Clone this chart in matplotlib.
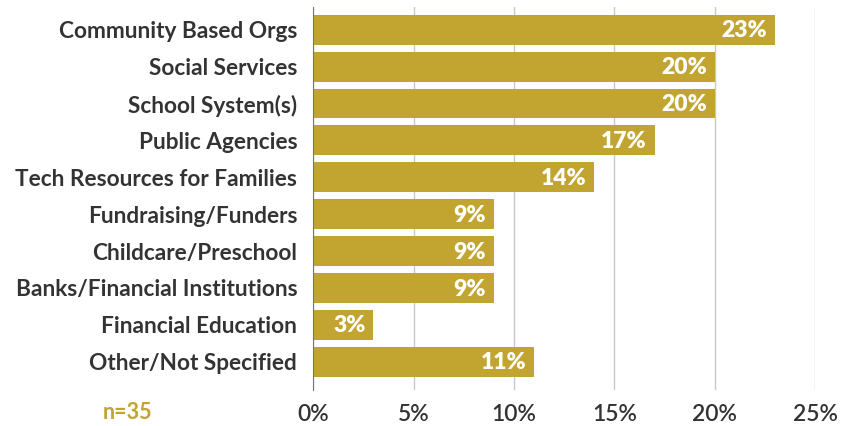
import matplotlib
matplotlib.use("Agg")
import matplotlib.pyplot as plt
from matplotlib.ticker import FuncFormatter

categories = ["Community Based Orgs", "Social Services", "School System(s)", "Public Agencies",
              "Tech Resources for Families", "Fundraising/Funders", "Childcare/Preschool",
              "Banks/Financial Institutions", "Financial Education", "Other/Not Specified"]
values = [23, 20, 20, 17, 14, 9, 9, 9, 3, 11]
ticks = [0, 5, 10, 15, 20, 25]
sample_note = "n=35"

gold = "#C2A431"
dark = "#333333"
plt.rcParams['font.family'] = ['Lato', 'DejaVu Sans']

fig = plt.figure(figsize=(8.51, 4.26), dpi=100)
ax = fig.add_axes([0.368, 0.085, 0.59, 0.899])

pos = list(range(len(categories)))
ax.barh(pos, values, height=0.81, color=gold, zorder=2)
for p, v in zip(pos, values):
    ax.text(v - 0.4, p + 0.03, f"{v}%", ha="right", va="center", color="white",
            fontsize=16.5, fontweight="heavy", zorder=3)

ax.set_xlim(0, 25)
ax.set_ylim(9.76, -0.62)
ax.set_xticks(ticks)
ax.xaxis.set_major_formatter(FuncFormatter(lambda x, _: f"{x:.0f}%"))
ax.set_yticks(pos)
ax.set_yticklabels(categories, fontsize=16.3, fontweight="bold", color=dark)
ax.tick_params(axis="x", labelsize=16.5, colors=dark, length=0, pad=10)
ax.tick_params(axis="y", length=0, pad=11.5)
for lbl in ax.get_xticklabels():
    lbl.set_fontweight("semibold")
ax.grid(axis="x", color="#c8c8c8", linewidth=1, zorder=0)
for s in ["top", "right", "bottom"]:
    ax.spines[s].set_visible(False)
ax.spines["left"].set_color("#777777")

fig.text(0.150, 0.032, sample_note, color=gold, fontsize=15.5, fontweight="bold", ha="center", va="center")

fig.savefig("out.png", dpi=100)
